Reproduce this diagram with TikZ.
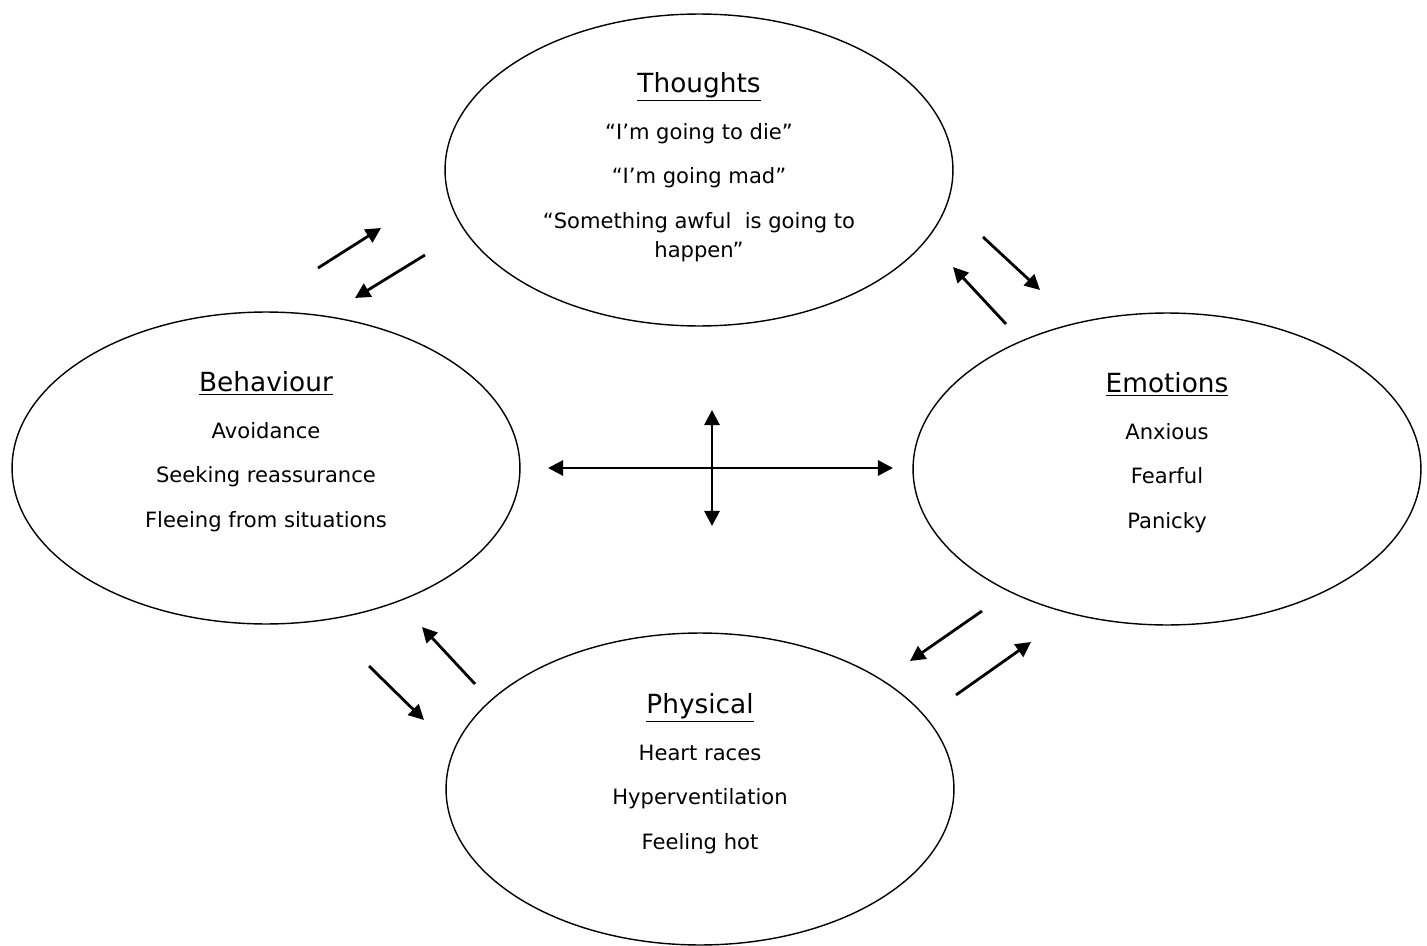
\documentclass[tikz,border=0pt]{standalone}
\usepackage{fontspec}
\setmainfont{DejaVu Sans}
\usetikzlibrary{arrows.meta}
\usetikzlibrary{shapes.geometric}
\newcommand\bubtitle[1]{{\fontsize{15}{18}\selectfont\underline{#1}}}
\tikzstyle{bubble}=[ellipse,draw,line width=.8pt,minimum width=10.16cm,minimum height=6.24cm,inner sep=0pt]
\tikzstyle{txt}=[anchor=north,align=center,inner sep=0pt,font=\fontsize{12}{25.5}\selectfont]
\tikzstyle{cychead}=[>/.tip={Triangle[length=8.6pt,width=8.6pt]}]
\tikzstyle{cyc} =[line width=1.6pt,cychead,->]
\tikzstyle{cycb}=[line width=1.6pt,cychead,<->]

\begin{document}
\begin{tikzpicture}[x=0.02cm,y=-0.02cm]
	\useasboundingbox (0,0) rectangle (1427,946);
	\node[bubble] (thoughts)  at (699,170) {};
	\node[bubble] (behaviour) at (266,468) {};
	\node[bubble] (emotions)  at (1167,469) {};
	\node[bubble] (physical)  at (700,789) {};
	\node[txt] (thoughts-t) at (699,72) {\bubtitle{Thoughts}\\[1.1pt]
	  “I’m going to die”\\ “I’m going mad”\\ “Something awful\ \ is going to\\[-9.1pt] happen”};
	\node[txt] (behaviour-t) at (266,371) {\bubtitle{Behaviour}\\[1.1pt]
	  Avoidance\\ Seeking reassurance\\ Fleeing from situations};
	\node[txt] (emotions-t) at (1167,372) {\bubtitle{Emotions}\\[1.1pt]
	  Anxious\\ Fearful\\ Panicky};
	\node[txt] (physical-t) at (700,693) {\bubtitle{Physical}\\[1.1pt]
	  Heart races\\ Hyperventilation\\ Feeling hot};
	\coordinate (b2t-s) at (318,268);  \coordinate (b2t-e) at (381,228);
	\coordinate (t2b-s) at (425,255);  \coordinate (t2b-e) at (355,298);
	\coordinate (t2e-s) at (983,237);  \coordinate (t2e-e) at (1040,290);
	\coordinate (e2t-s) at (1006,324); \coordinate (e2t-e) at (953,267);
	\coordinate (e2p-s) at (982,611);  \coordinate (e2p-e) at (910,661);
	\coordinate (p2e-s) at (956,695);  \coordinate (p2e-e) at (1031,642);
	\coordinate (p2b-s) at (475,684);  \coordinate (p2b-e) at (422,627);
	\coordinate (b2p-s) at (369,666);  \coordinate (b2p-e) at (424,720);
	\coordinate (hl) at (548,468); \coordinate (hr) at (893,468);
	\coordinate (vt) at (712,410); \coordinate (vb) at (712,526);
	\foreach \a in {b2t,t2b,t2e,e2t,e2p,p2e,p2b,b2p}
	  \draw[cyc] (\a-s) -- (\a-e);
	\draw[cycb] (hl) -- (hr);
	\draw[cycb] (vt) -- (vb);
\end{tikzpicture}
\end{document}
